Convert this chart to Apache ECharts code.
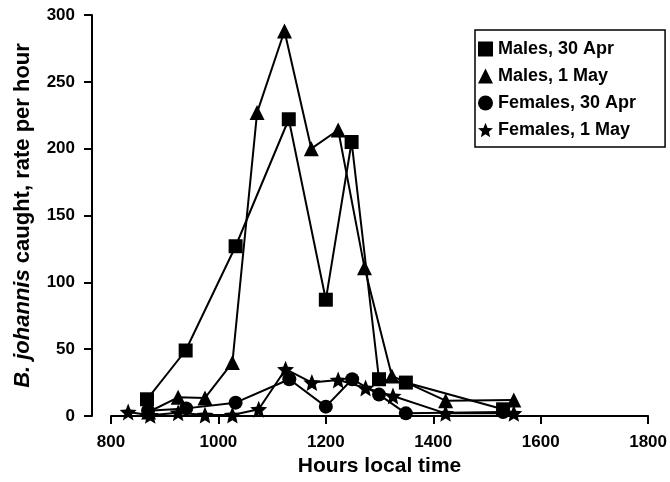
<!DOCTYPE html>
<html>
<head>
<meta charset="utf-8">
<script src="https://cdn.jsdelivr.net/npm/echarts/dist/echarts.min.js"></script>
<style>
  html, body { margin: 0; padding: 0; background: #fff; }
  #chart { width: 670px; height: 482px; }
</style>
</head>
<body>
<div id="chart"></div>
<script>
// Catch rates of B. johannis (per hour) by local time of day
const malesAprTimes  = [867, 939, 1032, 1131, 1200, 1248, 1299, 1349, 1530];
const malesAprRates  = [12.5, 49, 127, 222, 87, 205, 27.5, 25, 5];

const malesMayTimes  = [870, 925, 975, 1026, 1072, 1123, 1173, 1223, 1272, 1323, 1423, 1550];
const malesMayRates  = [3, 14, 13.5, 40, 227, 288, 200, 214, 111, 30, 11.5, 12];

const femalesAprTimes = [869, 940, 1032, 1132, 1200, 1249, 1299, 1349, 1530];
const femalesAprRates = [4, 5.7, 10, 27.5, 7, 27.5, 16, 2, 3];

const femalesMayTimes = [832, 873, 925, 975, 1026, 1075, 1125, 1174, 1223, 1274, 1325, 1423, 1550];
const femalesMayRates = [3, 0.5, 2.5, 0.7, 0.7, 5, 35, 25, 27, 21, 15, 2, 2];

const seriesNames = ['Males, 30 Apr', 'Males, 1 May', 'Females, 30 Apr', 'Females, 1 May'];
const xTicks = [800, 1000, 1200, 1400, 1600, 1800];
const yTicks = [0, 50, 100, 150, 200, 250, 300];

// five-pointed star, inner radius ~0.45 of outer
const STAR = 'path://M50 0 L63.2 31.8 L97.6 34.5 L71.4 57 L79.4 90.5 L50 72.5 L20.6 90.5 L28.6 57 L2.4 34.5 L36.8 31.8 Z';
const FONT = '"Liberation Sans", Arial, sans-serif';

function pairs(xs, ys) { return xs.map((x, i) => [x, ys[i]]); }

function lineSeries(name, xs, ys, symbol, size) {
  return {
    name: name,
    type: 'line',
    data: pairs(xs, ys),
    symbol: symbol,
    symbolSize: size,
    showSymbol: true,
    lineStyle: { color: '#000', width: 2 },
    itemStyle: { color: '#000', borderWidth: 0 },
    emphasis: { disabled: true }
  };
}

const chart = echarts.init(document.getElementById('chart'), null, { renderer: 'canvas' });
chart.setOption({
  animation: false,
  backgroundColor: '#fff',
  grid: { left: 111, right: 19, top: 15, bottom: 66 },
  legend: {
    orient: 'vertical',
    left: 475,
    top: 30,
    padding: [10, 29, 8, 3],
    itemGap: 9,
    itemWidth: 15,
    itemHeight: 15,
    borderColor: '#000',
    borderWidth: 1.5,
    textStyle: { fontFamily: FONT, fontWeight: 'bold', fontSize: 18, color: '#000' },
    data: [
      { name: seriesNames[0], icon: 'rect' },
      { name: seriesNames[1], icon: 'triangle' },
      { name: seriesNames[2], icon: 'circle' },
      { name: seriesNames[3], icon: STAR }
    ]
  },
  xAxis: {
    type: 'value',
    min: xTicks[0],
    max: xTicks[xTicks.length - 1],
    interval: 200,
    splitLine: { show: false },
    axisLine: { show: true, lineStyle: { color: '#000', width: 2 } },
    axisTick: { show: true, length: 8, lineStyle: { color: '#000', width: 2 } },
    axisLabel: {
      margin: 18, fontFamily: FONT, fontWeight: 'bold', fontSize: 17, color: '#000',
      formatter: v => String(v)
    },
    name: 'Hours local time',
    nameLocation: 'middle',
    nameGap: 40,
    nameTextStyle: { fontFamily: FONT, fontWeight: 'bold', fontSize: 21, color: '#000' }
  },
  yAxis: {
    type: 'value',
    min: yTicks[0],
    max: yTicks[yTicks.length - 1],
    interval: 50,
    offset: 19,
    splitLine: { show: false },
    axisLine: { show: true, lineStyle: { color: '#000', width: 2 } },
    axisTick: { show: true, length: 8, lineStyle: { color: '#000', width: 2 } },
    axisLabel: {
      margin: 17, fontFamily: FONT, fontWeight: 'bold', fontSize: 17, color: '#000',
      formatter: v => String(v)
    },
    name: '{i|B. johannis} caught, rate per hour',
    nameLocation: 'middle',
    nameRotate: 90,
    nameGap: 58,
    nameTextStyle: {
      fontFamily: FONT, fontWeight: 'bold', fontSize: 22, color: '#000',
      rich: { i: { fontFamily: FONT, fontWeight: 'bold', fontStyle: 'italic', fontSize: 22, color: '#000' } }
    }
  },
  series: [
    lineSeries(seriesNames[3], femalesMayTimes, femalesMayRates, STAR, 17),
    lineSeries(seriesNames[2], femalesAprTimes, femalesAprRates, 'circle', 14),
    lineSeries(seriesNames[1], malesMayTimes, malesMayRates, 'triangle', 15),
    lineSeries(seriesNames[0], malesAprTimes, malesAprRates, 'rect', 14)
  ]
});
</script>
</body>
</html>
